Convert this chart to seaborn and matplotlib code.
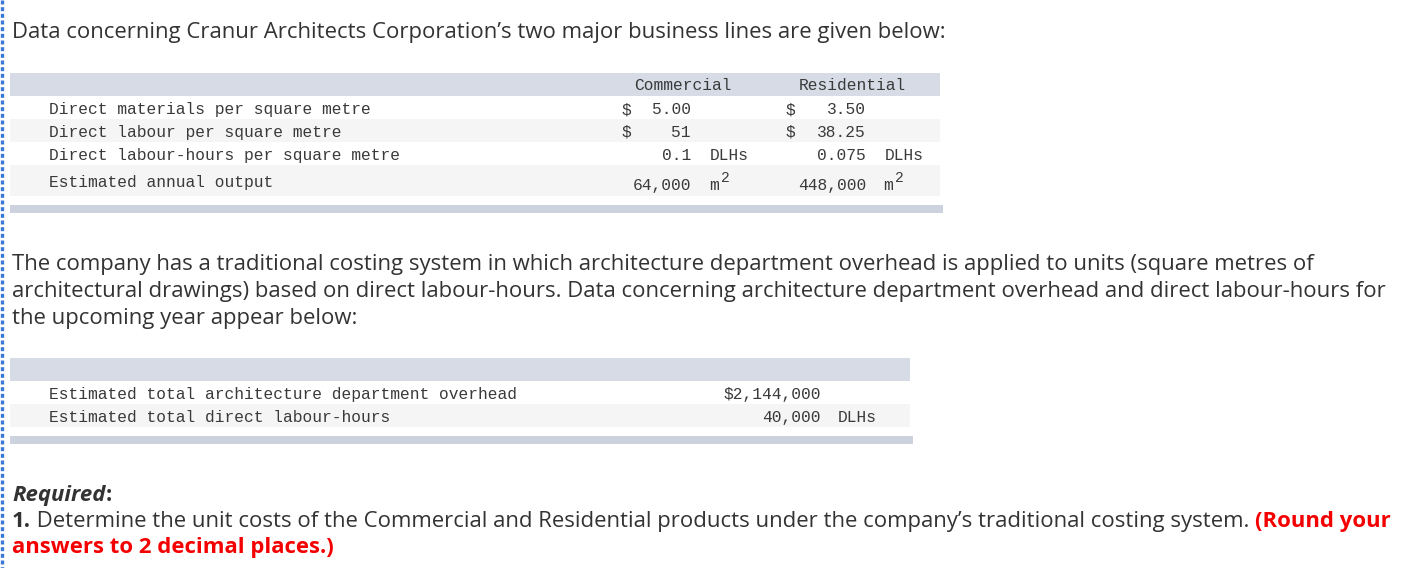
import matplotlib
matplotlib.use("Agg")
import matplotlib.pyplot as plt
from matplotlib.patches import Rectangle
import seaborn as sns

sns.set_theme(style="white")
plt.rcParams['font.family'] = ['Open Sans', 'DejaVu Sans']

# --- content ---
intro = "Data concerning Cranur Architects Corporation’s two major business lines are given below:"
columns = ["Commercial", "Residential"]
row_labels = ["Direct materials per square metre",
              "Direct labour per square metre",
              "Direct labour-hours per square metre",
              "Estimated annual output"]
commercial = ["5.00", "51", "0.1", "64,000"]
residential = ["3.50", "38.25", "0.075", "448,000"]
units = ["", "", "DLHs", "m"]
dollar_sign = [True, True, False, False]

paragraph = ["The company has a traditional costing system in which architecture department overhead is applied to units (square metres of",
             "architectural drawings) based on direct labour-hours. Data concerning architecture department overhead and direct labour-hours for",
             "the upcoming year appear below:"]

overhead_labels = ["Estimated total architecture department overhead",
                   "Estimated total direct labour-hours"]
overhead_values = ["$2,144,000", "40,000"]
overhead_units = ["", "DLHs"]

question = "Determine the unit costs of the Commercial and Residential products under the company’s traditional costing system."
round_note = ["(Round your", "answers to 2 decimal places.)"]

TXT = "#333333"
RED = "#f50000"
MONO = dict(family="Liberation Mono", fontsize=11.7, color="#3a3a3a")
HEAD_BAND = "#d6dbe5"
GRAY_ROW = "#f5f5f5"
FOOT_BAND = "#ccd2de"

fig = plt.figure(figsize=(14.18, 5.68), dpi=100)
ax = fig.add_axes([0, 0, 1, 1])
ax.set_xlim(0, 1418)
ax.set_ylim(568, 0)
ax.axis("off")
fig.canvas.draw()
renderer = fig.canvas.get_renderer()


def width(s, **kw):
    t = ax.text(0, 0, s, **kw)
    bb = t.get_window_extent(renderer)
    t.remove()
    return bb.width


# size the body font so the wide paragraph line spans like the reference
size = 14.0 * 1380 / width(paragraph[1], fontsize=14.0)
SANS = dict(fontsize=size, color=TXT)
BOLD = dict(SANS, fontweight="bold")


def runs(x, y, parts):
    # pieces of differently styled text one after another
    for s, kw in parts:
        ax.text(x, y, s, va="baseline", ha="left", **kw)
        x += width(s, **kw)


# left dotted border
ax.plot([2, 2], [0, 568], color="#3b78d6", lw=2.4, ls=(0, (1.2, 0.8)), solid_capstyle="butt")

# intro line
ax.text(12, 38, intro, va="baseline", **SANS)

# --- table 1 ---
ax.add_patch(Rectangle((10, 73), 930, 23, color=HEAD_BAND, lw=0))
row_tops = [96, 119, 142, 165]
row_h = [23, 23, 23, 31]
for i, (top, h) in enumerate(zip(row_tops, row_h)):
    ax.add_patch(Rectangle((10, top), 930, h, color=GRAY_ROW if i % 2 else "white", lw=0))
ax.add_patch(Rectangle((10, 205), 933, 8, color=FOOT_BAND, lw=0))

ax.text(683, 90, columns[0], ha="center", va="baseline", **MONO)
ax.text(852, 90, columns[1], ha="center", va="baseline", **MONO)

baselines = [114, 137, 160, 190]
for i, y in enumerate(baselines):
    ax.text(49, y - (3 if i == 3 else 0), row_labels[i], va="baseline", **MONO)
    if dollar_sign[i]:
        ax.text(622, y, "$", va="baseline", **MONO)
        ax.text(786, y, "$", va="baseline", **MONO)
    ax.text(691, y, commercial[i], ha="right", va="baseline", **MONO)
    ax.text(866, y, residential[i], ha="right", va="baseline", **MONO)
    if units[i] == "DLHs":
        ax.text(710, y, units[i], va="baseline", **MONO)
        ax.text(885, y, units[i], va="baseline", **MONO)
    elif units[i] == "m":
        for xm in (709, 883):
            ax.text(xm, y, "m", va="baseline", **MONO)
            ax.text(xm + 12, y - 8, "2", va="baseline", family="Liberation Mono",
                    fontsize=10.5, color="#3a3a3a")

# --- paragraph ---
for line, y in zip(paragraph, [270, 297, 324]):
    ax.text(12, y, line, va="baseline", **SANS)

# --- table 2 ---
ax.add_patch(Rectangle((10, 358), 900, 23, color=HEAD_BAND, lw=0))
ax.add_patch(Rectangle((10, 381), 900, 23, color="white", lw=0))
ax.add_patch(Rectangle((10, 404), 900, 23, color=GRAY_ROW, lw=0))
ax.add_patch(Rectangle((10, 436), 903, 8, color=FOOT_BAND, lw=0))
for lab, val, un, y in zip(overhead_labels, overhead_values, overhead_units, [399, 422]):
    ax.text(49, y, lab, va="baseline", **MONO)
    ax.text(821, y, val, ha="right", va="baseline", **MONO)
    if un:
        ax.text(838, y, un, va="baseline", **MONO)

# --- required ---
runs(12, 501, [("Required", dict(BOLD, fontstyle="italic")), (":", BOLD)])
runs(12, 527, [("1.", BOLD), (" " + question + " ", SANS),
               (round_note[0], dict(BOLD, color=RED))])
ax.text(12, 553, round_note[1], va="baseline", **dict(BOLD, color=RED))

fig.savefig("out.png", dpi=100)
